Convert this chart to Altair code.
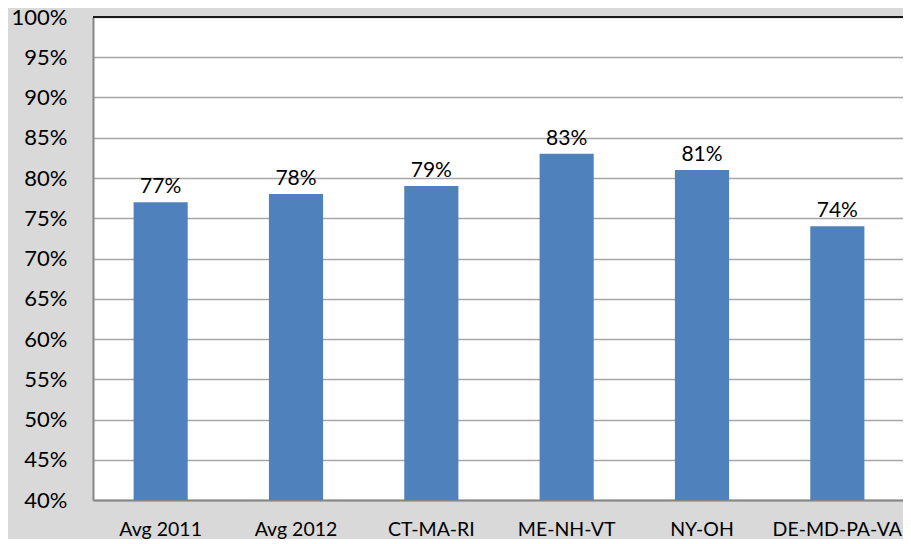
import altair as alt
import pandas as pd

categories = ["Avg 2011", "Avg 2012", "CT-MA-RI", "ME-NH-VT", "NY-OH", "DE-MD-PA-VA"]
values = [0.77, 0.78, 0.79, 0.83, 0.81, 0.74]
y_ticks = [0.40, 0.45, 0.50, 0.55, 0.60, 0.65, 0.70, 0.75, 0.80, 0.85, 0.90, 0.95, 1.00]

df = pd.DataFrame({"cat": categories, "val": values})

FONT = "Lato"

x = alt.X("cat:N", sort=categories, title=None,
          scale=alt.Scale(paddingInner=0.6, paddingOuter=0.3, range=[0, 812]),
          axis=alt.Axis(labelAngle=0, labelFont=FONT, labelFontSize=19.5, labelColor="#000000",
                        labelBaseline="alphabetic", labelPadding=35, ticks=False, tickSize=0,
                        domainColor="#868686", domainWidth=2, grid=False))
y = alt.Y("val:Q", title=None,
          scale=alt.Scale(domain=[0.4, 1.0], nice=False, zero=False),
          axis=alt.Axis(values=y_ticks, format=".0%", labelFont=FONT, labelFontSize=22,
                        labelColor="#000000", labelPadding=26, ticks=False, tickSize=0,
                        domainColor="#868686", domainWidth=2,
                        grid=True, gridColor="#a6a6a6", gridWidth=1.5))

bars = alt.Chart(df).mark_bar(color="#4f81bd").encode(x=x, y=y, y2=alt.datum(y_ticks[0]))

labels = alt.Chart(df).mark_text(font=FONT, fontSize=21, color="#000000",
                                 baseline="alphabetic", dy=-9).encode(
    x=alt.X("cat:N", sort=categories),
    y=alt.Y("val:Q"),
    text=alt.Text("val:Q", format=".0%"),
)

top_df = pd.DataFrame({"v": [y_ticks[-1]]})
top_line = alt.Chart(top_df).mark_rule(color="#1a1a1a", strokeWidth=2).encode(y=alt.Y("v:Q"))

chart = alt.layer(bars, labels, top_line).properties(
    width=810, height=483,
    autosize=alt.AutoSizeParams(type="none"),
    padding={"left": 85, "top": 9, "right": 0, "bottom": 39},
    background="#d9d9d9",
).configure_view(fill="#ffffff", stroke=None)

chart.save("out.html", embed_options={"renderer": "svg", "actions": False})
